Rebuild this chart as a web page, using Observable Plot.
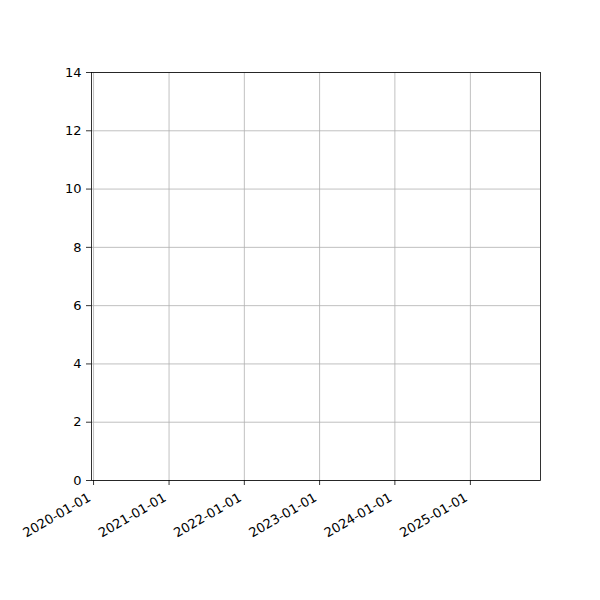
<!DOCTYPE html>
<html>
<head>
<meta charset="utf-8">
<script src="https://cdn.jsdelivr.net/npm/d3@7"></script>
<script src="https://cdn.jsdelivr.net/npm/@observablehq/plot@0.6"></script>
<style>
  html, body { margin: 0; padding: 0; background: #fff; }
</style>
</head>
<body>
<div id="chart"></div>
<script>
// Data (the reference chart has no plotted series)
const xDomain = ["2019-12-22", "2025-12-07"];
const yDomain = [0, 14];
const xTickLabels = ["2020-01-01", "2021-01-01", "2022-01-01", "2023-01-01", "2024-01-01", "2025-01-01"];
const yTickValues = [0, 2, 4, 6, 8, 10, 12, 14];
const seriesDates = [];
const seriesValues = [];

const parse = d3.utcParse("%Y-%m-%d");
const fmt = d3.utcFormat("%Y-%m-%d");
const xTicks = xTickLabels.map(parse);
const data = seriesDates.map((d, i) => ({date: parse(d), value: seriesValues[i]}));

const font = "DejaVu Sans, sans-serif";
const fs = 13;

const chart = Plot.plot({
  width: 600,
  height: 600,
  marginLeft: 91,
  marginRight: 60,
  marginTop: 72,
  marginBottom: 120,
  style: {fontFamily: font, fontSize: fs + "px", color: "black", background: "white"},
  x: {type: "utc", domain: xDomain.map(parse)},
  y: {domain: yDomain},
  marks: [
    Plot.gridX(xTicks, {stroke: "#b0b0b0", strokeOpacity: 1, strokeWidth: 0.8}),
    Plot.gridY(yTickValues, {stroke: "#b0b0b0", strokeOpacity: 1, strokeWidth: 0.8}),
    Plot.line(data, {x: "date", y: "value", stroke: "#1f77b4"}),
    Plot.frame({stroke: "black", strokeWidth: 0.8}),
    Plot.axisX({ticks: xTicks, tickFormat: null, text: null, tickSize: 5, label: null, stroke: "black", strokeWidth: 0.8}),
    Plot.text(xTicks, {
      x: d => d,
      frameAnchor: "bottom",
      text: d => fmt(d),
      rotate: -30,
      textAnchor: "end",
      lineAnchor: "top",
      dx: -6.5,
      dy: 11.5,
      fontSize: fs,
      fill: "black"
    }),
    Plot.axisY({ticks: yTickValues, tickSize: 5, tickPadding: 5, label: null, stroke: "black", strokeWidth: 0.8, fontSize: fs})
  ]
});
document.getElementById("chart").appendChild(chart);
</script>
</body>
</html>
